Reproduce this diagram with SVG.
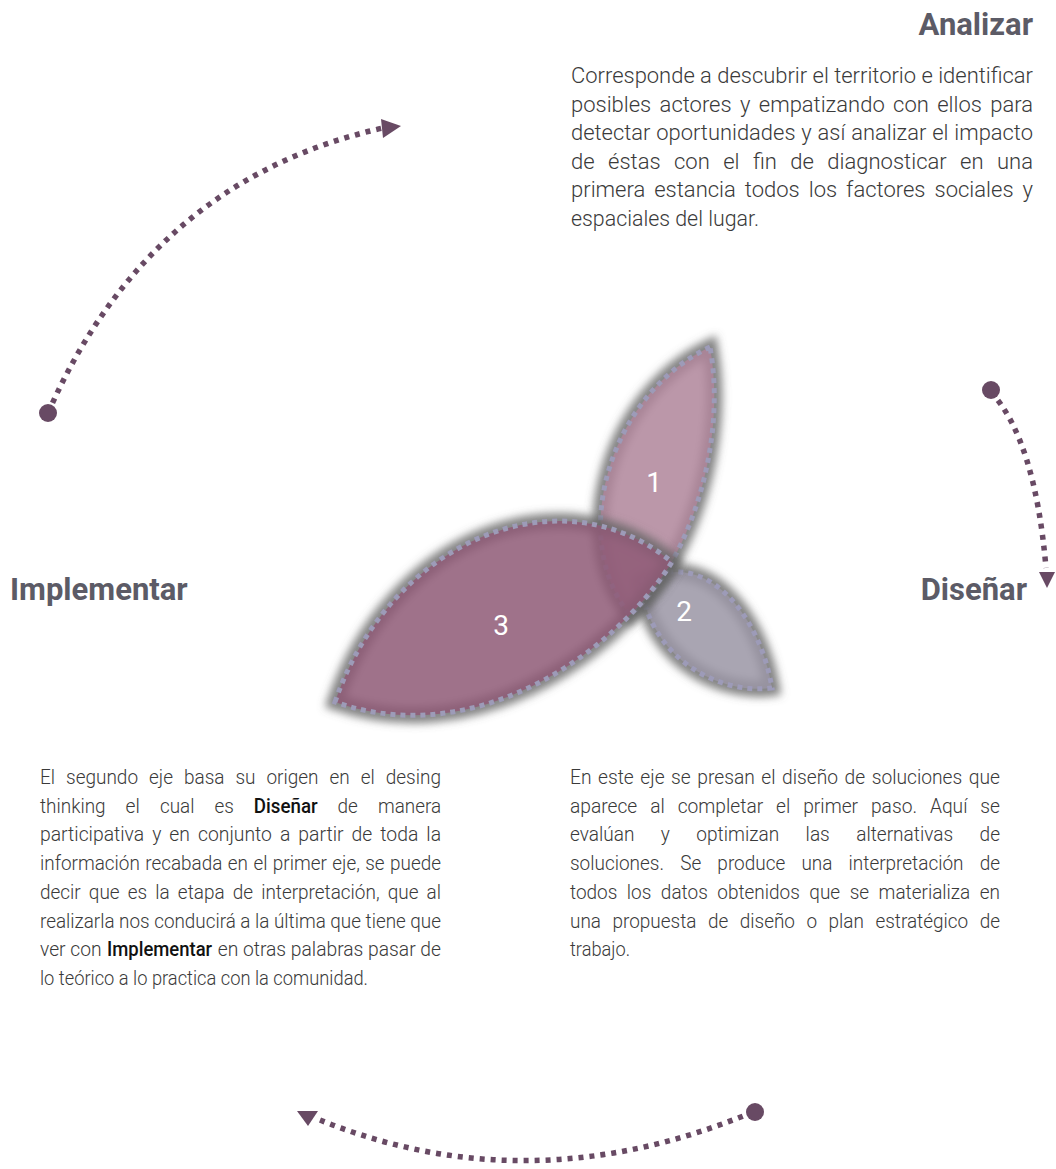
<svg xmlns="http://www.w3.org/2000/svg" width="1056" height="1169" viewBox="0 0 1056 1169">
<style>
  .heading { font-family: Roboto, "Liberation Sans", sans-serif; font-weight: 700; font-size: 31px; fill: #5c5b66; }
  .body { font-family: Roboto, "Liberation Sans", sans-serif; font-weight: 300; fill: #3a3a3a; }
  .up { font-size: 22px; }
  .low { font-size: 21px; }
  .strong { font-weight: 500; fill: #111111; }
  .num { font-family: Roboto, "Liberation Sans", sans-serif; font-weight: 400; font-size: 28px; fill: #ffffff; text-anchor: middle; }
  .flow { fill: none; stroke: #684a64; stroke-width: 5.5; stroke-dasharray: 5 6; }
  .dot, .head { fill: #684a64; }
  .halo { fill: none; stroke: #646464; stroke-width: 16; stroke-opacity: 0.8; filter: url(#soft); }
  .edge { fill: none; stroke: #9d9bb8; stroke-width: 5; stroke-dasharray: 5 5; }
</style>
<defs>
  <filter id="soft" x="-30%" y="-30%" width="160%" height="160%">
    <feGaussianBlur stdDeviation="4.5"/>
  </filter>
</defs>
<rect width="1056" height="1169" fill="#ffffff"/>

<g id="connectors">
  <path class="flow" d="M48,413 Q150,180 383,128"/>
  <circle class="dot" cx="48" cy="413" r="9"/>
  <polygon class="head" points="381,119 401,126 383,138"/>

  <path class="flow" d="M991,392 Q1035,440 1046,568"/>
  <circle class="dot" cx="991" cy="390" r="9"/>
  <polygon class="head" points="1039,572 1055,572 1047,588"/>

  <path class="flow" d="M753,1112 Q530,1205 320,1120"/>
  <circle class="dot" cx="755" cy="1112" r="9"/>
  <polygon class="head" points="297,1111 318,1111 308,1126"/>
</g>

<g id="petal-2">
  <path class="halo" d="M640,582 C705,545 760,615 772,688 C720,695 650,660 640,582 Z"/>
  <path d="M640,582 C705,545 760,615 772,688 C720,695 650,660 640,582 Z" fill="#9a95a4" fill-opacity="0.85"/>
  <path class="edge" d="M640,582 C705,545 760,615 772,688 C720,695 650,660 640,582 Z"/>
</g>
<g id="petal-1">
  <path class="halo" d="M710,347 C608,395 568,540 630,615 C692,560 727,440 710,347 Z"/>
  <path d="M710,347 C608,395 568,540 630,615 C692,560 727,440 710,347 Z" fill="#af859a" fill-opacity="0.85"/>
  <path class="edge" d="M710,347 C608,395 568,540 630,615 C692,560 727,440 710,347 Z"/>
</g>
<g id="petal-3">
  <path class="halo" d="M335,702 C390,540 560,470 672,562 C610,660 470,750 335,702 Z"/>
  <path d="M335,702 C390,540 560,470 672,562 C610,660 470,750 335,702 Z" fill="#8e5976" fill-opacity="0.85"/>
  <path class="edge" d="M335,702 C390,540 560,470 672,562 C610,660 470,750 335,702 Z"/>
</g>
<g id="petal-labels">
  <text class="num" x="654" y="492">1</text>
  <text class="num" x="684" y="621">2</text>
  <text class="num" x="501" y="635">3</text>
</g>

<g id="analizar">
  <text class="heading" x="1033" y="35" text-anchor="end">Analizar</text>
  <g class="body up">
    <text x="571" y="83" textLength="462" lengthAdjust="spacingAndGlyphs">Corresponde a descubrir el territorio e identificar</text>
    <text x="571" y="111.5" textLength="462" lengthAdjust="spacingAndGlyphs" word-spacing="3">posibles actores y empatizando con ellos para</text>
    <text x="571" y="140" textLength="462" lengthAdjust="spacingAndGlyphs" word-spacing="0.5">detectar oportunidades y así analizar el impacto</text>
    <text x="571" y="168.5" textLength="462" lengthAdjust="spacingAndGlyphs" word-spacing="8">de éstas con el fin de diagnosticar en una</text>
    <text x="571" y="197" textLength="462" lengthAdjust="spacingAndGlyphs" word-spacing="3.6">primera estancia todos los factores sociales y</text>
    <text x="571" y="225.5" textLength="188" lengthAdjust="spacingAndGlyphs">espaciales del lugar.</text>
  </g>
</g>

<g id="implementar">
  <text class="heading" x="10" y="600">Implementar</text>
</g>
<g id="disenar">
  <text class="heading" x="1027" y="600" text-anchor="end">Diseñar</text>
</g>

<g id="text-left" class="body low">
  <text x="40" y="784" textLength="401" lengthAdjust="spacingAndGlyphs" word-spacing="7">El segundo eje basa su origen en el desing</text>
  <text x="40" y="812.7" textLength="65.6" lengthAdjust="spacingAndGlyphs">thinking</text>
  <text x="125.6" y="812.7" textLength="14.3" lengthAdjust="spacingAndGlyphs">el</text>
  <text x="159.9" y="812.7" textLength="34.5" lengthAdjust="spacingAndGlyphs">cual</text>
  <text x="214.4" y="812.7" textLength="19.4" lengthAdjust="spacingAndGlyphs">es</text>
  <text class="strong" x="253.8" y="812.7" textLength="63.8" lengthAdjust="spacingAndGlyphs">Diseñar</text>
  <text x="337.6" y="812.7" textLength="20.3" lengthAdjust="spacingAndGlyphs">de</text>
  <text x="378" y="812.7" textLength="63" lengthAdjust="spacingAndGlyphs">manera</text>
  <text x="40" y="841.4" textLength="401" lengthAdjust="spacingAndGlyphs" word-spacing="3.6">participativa y en conjunto a partir de toda la</text>
  <text x="40" y="870.1" textLength="401" lengthAdjust="spacingAndGlyphs" word-spacing="0.9">información recabada en el primer eje, se puede</text>
  <text x="40" y="898.8" textLength="401" lengthAdjust="spacingAndGlyphs" word-spacing="3.9">decir que es la etapa de interpretación, que al</text>
  <text x="40" y="927.5" textLength="401" lengthAdjust="spacingAndGlyphs">realizarla nos conducirá a la última que tiene que</text>
  <text x="40" y="956.2" textLength="61.5" lengthAdjust="spacingAndGlyphs">ver con</text>
  <text class="strong" x="107.1" y="956.2" textLength="105" lengthAdjust="spacingAndGlyphs">Implementar</text>
  <text x="217.7" y="956.2" textLength="223.3" lengthAdjust="spacingAndGlyphs">en otras palabras pasar de</text>
  <text x="40" y="984.9" textLength="328" lengthAdjust="spacingAndGlyphs">lo teórico a lo practica con la comunidad.</text>
</g>

<g id="text-right" class="body low">
  <text x="570" y="784" textLength="430" lengthAdjust="spacingAndGlyphs" word-spacing="2">En este eje se presan el diseño de soluciones que</text>
  <text x="570" y="812.7" textLength="430" lengthAdjust="spacingAndGlyphs" word-spacing="9">aparece al completar el primer paso. Aquí se</text>
  <text x="570" y="841.4" textLength="430" lengthAdjust="spacingAndGlyphs" word-spacing="24">evalúan y optimizan las alternativas de</text>
  <text x="570" y="870.1" textLength="430" lengthAdjust="spacingAndGlyphs" word-spacing="12.8">soluciones. Se produce una interpretación de</text>
  <text x="570" y="898.8" textLength="430" lengthAdjust="spacingAndGlyphs" word-spacing="5.4">todos los datos obtenidos que se materializa en</text>
  <text x="570" y="927.5" textLength="430" lengthAdjust="spacingAndGlyphs" word-spacing="7.6">una propuesta de diseño o plan estratégico de</text>
  <text x="570" y="956.2" textLength="60" lengthAdjust="spacingAndGlyphs">trabajo.</text>
</g>
</svg>
